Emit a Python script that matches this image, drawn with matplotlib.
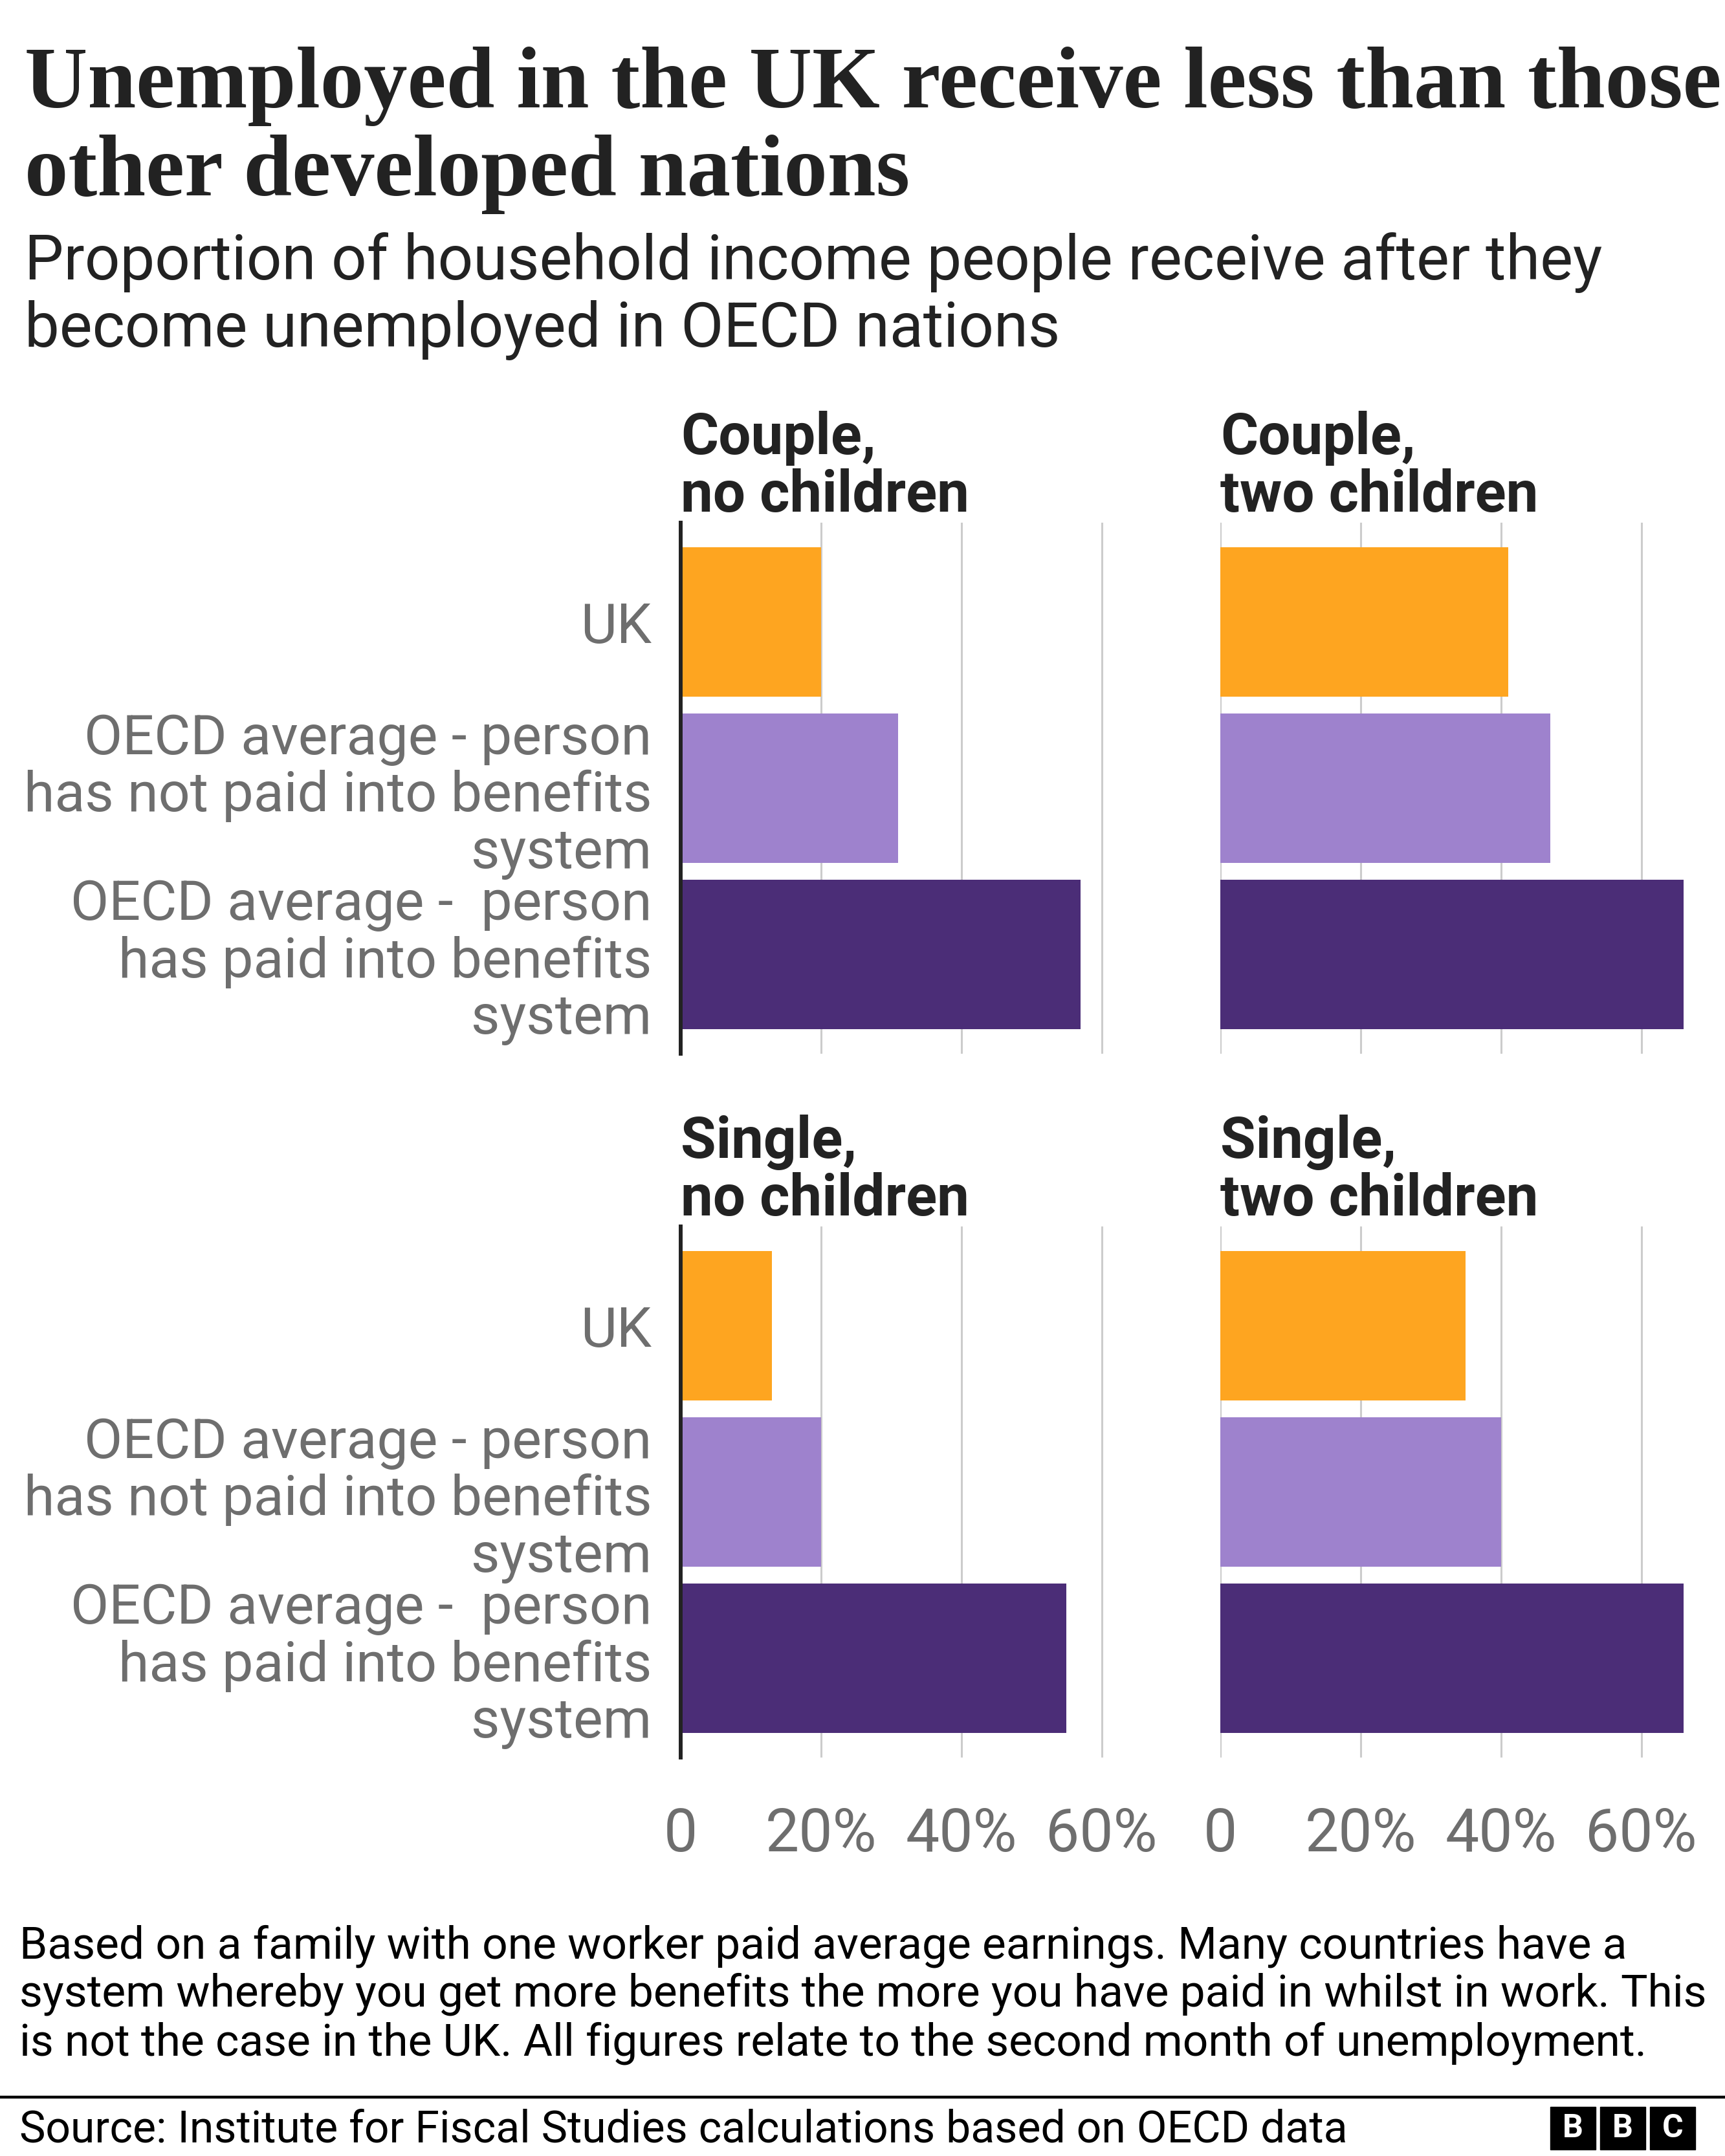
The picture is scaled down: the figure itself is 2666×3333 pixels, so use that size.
import matplotlib.pyplot as plt
from matplotlib.patches import Rectangle

# data (percent of household income)
categories = [
    'UK',
    'OECD average - person\nhas not paid into benefits\nsystem',
    'OECD average -  person\nhas paid into benefits\nsystem',
]
panel_titles = ['Couple,\nno children', 'Couple,\ntwo children',
                'Single,\nno children', 'Single,\ntwo children']
couple_no_children = [20, 31, 57]
couple_two_children = [41, 47, 66]
single_no_children = [13, 20, 55]
single_two_children = [35, 40, 66]
x_ticks = [0, 20, 40, 60]
x_tick_labels = ['0', '20%', '40%', '60%']

bar_colors = ['#fea520', '#9e82cd', '#4b2d77']
grey_text = '#6e6e6e'
dark_text = '#222222'
sans = ['Roboto', 'DejaVu Sans']

W, H = 2666, 3333
fig = plt.figure(figsize=(W / 100, H / 100), dpi=100)
fig.patch.set_facecolor('white')


def fy(px):
    # pixel row from the top -> figure fraction
    return 1 - px / H


def fx(px):
    return px / W


# title and subtitle
title_lines = ['Unemployed in the UK receive less than those', 'other developed nations']
for i, line in enumerate(title_lines):
    fig.text(fx(38), fy(166 + i * 136), line, family='Liberation Serif', weight='bold',
             fontsize=97, color=dark_text, va='baseline', ha='left')

subtitle_lines = ['Proportion of household income people receive after they',
                  'become unemployed in OECD nations']
for i, line in enumerate(subtitle_lines):
    fig.text(fx(38), fy(432 + i * 104), line, family=sans, fontsize=69,
             color=dark_text, va='baseline', ha='left')

# panels
panel_values = [couple_no_children, couple_two_children, single_no_children, single_two_children]
lefts = [1052, 1886, 1052, 1886]
tops = [808, 808, 1896, 1896]
panel_h = 821
panel_w = 721

for k, vals in enumerate(panel_values):
    left, top = lefts[k], tops[k]
    ax = fig.add_axes([fx(left), fy(top + panel_h), panel_w / W, panel_h / H])
    ax.barh(range(len(categories)), vals, height=0.9, color=bar_colors, zorder=3)
    ax.set_xlim(0, 66.5)
    ax.set_ylim(2.6, -0.6)
    ax.set_xticks(x_ticks)
    ax.grid(axis='x', color='#cccccc', linewidth=2.2, zorder=0)
    ax.set_axisbelow(True)
    for s in ['top', 'right', 'bottom']:
        ax.spines[s].set_visible(False)
    ax.spines['left'].set_visible(k % 2 == 0)
    ax.spines['left'].set_color(dark_text)
    ax.spines['left'].set_linewidth(4.3)
    ax.spines['left'].set_zorder(4)

    if k % 2 == 0:
        ax.set_yticks(range(len(categories)))
        ax.set_yticklabels(categories, family=sans, fontsize=62, color=grey_text,
                           linespacing=1.1, ha='right', multialignment='right')
        ax.tick_params(axis='y', length=0, pad=32)
    else:
        ax.set_yticks([])

    if k >= 2:
        ax.set_xticklabels(x_tick_labels, family=sans, fontsize=67, color=grey_text)
        ax.tick_params(axis='x', length=0, pad=54)
    else:
        ax.set_xticklabels([])
        ax.tick_params(axis='x', length=0)

    for j, line in enumerate(panel_titles[k].split('\n')):
        fig.text(fx(left), fy(top - 106 + j * 89), line, family=sans, weight='bold',
                 fontsize=64, color=dark_text, va='baseline', ha='left')

# footnote
note_lines = [
    'Based on a family with one worker paid average earnings. Many countries have a',
    'system whereby you get more benefits the more you have paid in whilst in work. This',
    'is not the case in the UK. All figures relate to the second month of unemployment.',
]
for i, line in enumerate(note_lines):
    fig.text(fx(30), fy(3027 + i * 75), line, family=sans, fontsize=50,
             color='black', va='baseline', ha='left')

# rule and source
fig.add_artist(plt.Line2D([0, 1], [fy(3242), fy(3242)], color='black', linewidth=3.2))
fig.text(fx(30), fy(3312), 'Source: Institute for Fiscal Studies calculations based on OECD data',
         family=sans, fontsize=49, color='black', va='baseline', ha='left')

# BBC blocks
for i, letter in enumerate('BBC'):
    x0 = 2396 + i * 77
    fig.add_artist(Rectangle((fx(x0), fy(3323)), 70 / W, 66 / H, color='black',
                             transform=fig.transFigure))
    fig.text(fx(x0 + 35), fy(3290), letter, family=sans, weight='bold', fontsize=36,
             color='white', ha='center', va='center')

fig.savefig('out.png', dpi=100, facecolor='white')
